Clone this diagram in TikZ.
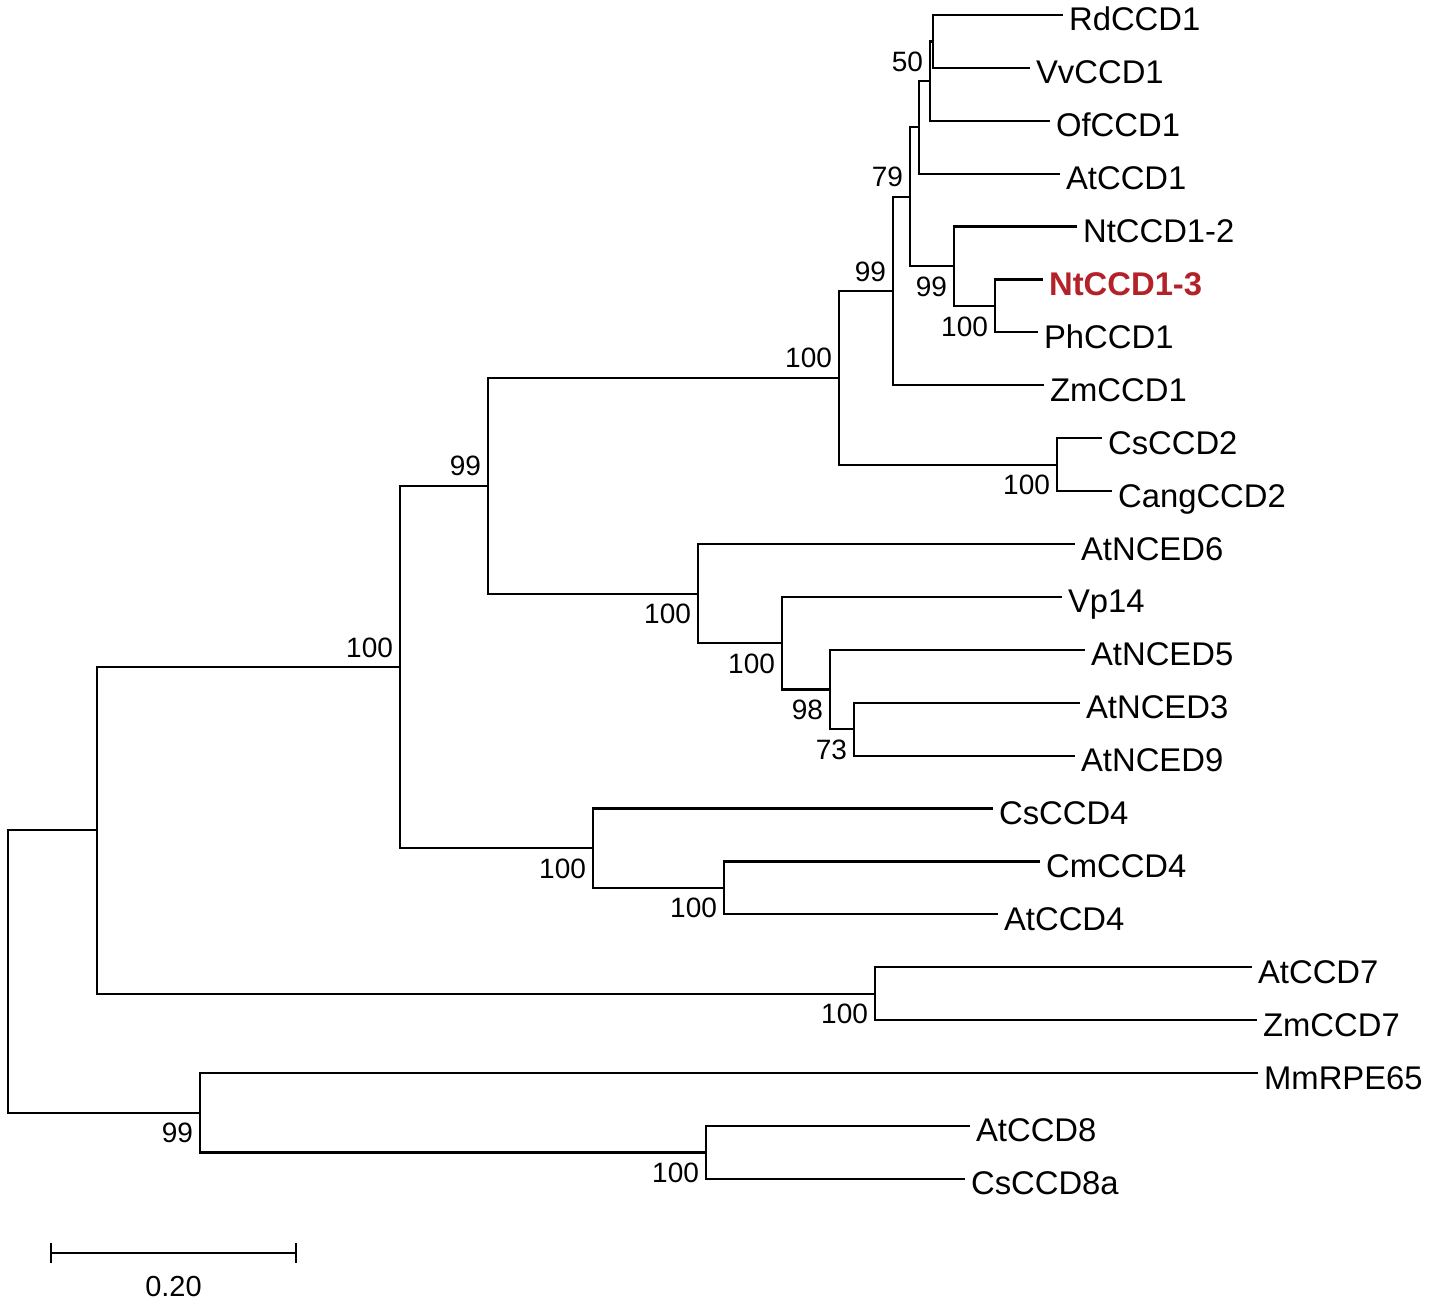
\documentclass[tikz,border=0pt]{standalone}
\usepackage{fontspec}
\setmainfont{Liberation Sans}
\definecolor{ntred}{RGB}{178,34,40}
\tikzstyle{leaf}=[anchor=west,inner xsep=2.5pt,inner ysep=0pt,text height=16pt,text depth=0pt,font=\fontsize{16.4}{18}\selectfont]
\tikzstyle{bootup}=[anchor=base east,inner sep=0pt,xshift=-3pt,yshift=5pt,font=\fontsize{14}{16}\selectfont]
\tikzstyle{bootdown}=[anchor=base east,inner sep=0pt,xshift=-3pt,yshift=-15pt,font=\fontsize{14}{16}\selectfont]

\begin{document}
\begin{tikzpicture}[x=0.5pt,y=-0.5pt,line width=1.1pt]
    \useasboundingbox (0,0) rectangle (1430,1305);
    % leaves
    \node[leaf] (RdCCD1)   at (1063,15)     {RdCCD1};
    \node[leaf] (VvCCD1)   at (1030,67.9)   {VvCCD1};
    \node[leaf] (OfCCD1)   at (1050,120.8)  {OfCCD1};
    \node[leaf] (AtCCD1)   at (1060,173.7)  {AtCCD1};
    \node[leaf] (NtCCD12)  at (1077,226.6)  {NtCCD1-2};
    \node[leaf,text=ntred,font=\fontsize{16.4}{18}\selectfont\bfseries] (NtCCD13) at (1043,279.5) {NtCCD1-3};
    \node[leaf] (PhCCD1)   at (1038,332.4)  {PhCCD1};
    \node[leaf] (ZmCCD1)   at (1044,385.3)  {ZmCCD1};
    \node[leaf] (CsCCD2)   at (1102,438.2)  {CsCCD2};
    \node[leaf] (CangCCD2) at (1112,491.1)  {CangCCD2};
    \node[leaf] (AtNCED6)  at (1075,544)    {AtNCED6};
    \node[leaf] (Vp14)     at (1062,596.9)  {Vp14};
    \node[leaf] (AtNCED5)  at (1085,649.8)  {AtNCED5};
    \node[leaf] (AtNCED3)  at (1080,702.7)  {AtNCED3};
    \node[leaf] (AtNCED9)  at (1075,755.6)  {AtNCED9};
    \node[leaf] (CsCCD4)   at (993,808.5)   {CsCCD4};
    \node[leaf] (CmCCD4)   at (1040,861.4)  {CmCCD4};
    \node[leaf] (AtCCD4)   at (998,914.3)   {AtCCD4};
    \node[leaf] (AtCCD7)   at (1252,967.2)  {AtCCD7};
    \node[leaf] (ZmCCD7)   at (1257,1020.1) {ZmCCD7};
    \node[leaf] (MmRPE65)  at (1258,1073)   {MmRPE65};
    \node[leaf] (AtCCD8)   at (970,1125.9)  {AtCCD8};
    \node[leaf] (CsCCD8a)  at (965,1178.8)  {CsCCD8a};
    % inner nodes
    \coordinate (n1)   at (933,41.5);
    \coordinate (n2)   at (930,81.1);
    \coordinate (n3)   at (919,127.4);
    \coordinate (n4)   at (995,306);
    \coordinate (n5)   at (954,266.3);
    \coordinate (n6)   at (910,196.9);
    \coordinate (n7)   at (893,291.1);
    \coordinate (n8)   at (1057,464.7);
    \coordinate (n9)   at (839,377.9);
    \coordinate (n10)  at (854,729.2);
    \coordinate (n11)  at (830,689.5);
    \coordinate (n12)  at (782,643.2);
    \coordinate (n13)  at (698,593.6);
    \coordinate (n14)  at (488,485.8);
    \coordinate (n15)  at (724,887.9);
    \coordinate (n16)  at (593,848.2);
    \coordinate (n17)  at (400,667);
    \coordinate (n18)  at (875,993.7);
    \coordinate (n19)  at (97,830.3);
    \coordinate (n20)  at (706,1152.4);
    \coordinate (n21)  at (200,1112.7);
    \coordinate (root) at (8,971.5);
    % branches
    \draw (n1) |- (RdCCD1.west);
    \draw (n1) |- (VvCCD1.west);
    \draw (n2) |- (n1);
    \draw (n2) |- (OfCCD1.west);
    \draw (n3) |- (n2);
    \draw (n3) |- (AtCCD1.west);
    \draw (n4) |- (NtCCD13.west);
    \draw (n4) |- (PhCCD1.west);
    \draw (n5) |- (NtCCD12.west);
    \draw (n5) |- (n4);
    \draw (n6) |- (n3);
    \draw (n6) |- (n5);
    \draw (n7) |- (n6);
    \draw (n7) |- (ZmCCD1.west);
    \draw (n8) |- (CsCCD2.west);
    \draw (n8) |- (CangCCD2.west);
    \draw (n9) |- (n7);
    \draw (n9) |- (n8);
    \draw (n10) |- (AtNCED3.west);
    \draw (n10) |- (AtNCED9.west);
    \draw (n11) |- (AtNCED5.west);
    \draw (n11) |- (n10);
    \draw (n12) |- (Vp14.west);
    \draw (n12) |- (n11);
    \draw (n13) |- (AtNCED6.west);
    \draw (n13) |- (n12);
    \draw (n14) |- (n9);
    \draw (n14) |- (n13);
    \draw (n15) |- (CmCCD4.west);
    \draw (n15) |- (AtCCD4.west);
    \draw (n16) |- (CsCCD4.west);
    \draw (n16) |- (n15);
    \draw (n17) |- (n14);
    \draw (n17) |- (n16);
    \draw (n18) |- (AtCCD7.west);
    \draw (n18) |- (ZmCCD7.west);
    \draw (n19) |- (n17);
    \draw (n19) |- (n18);
    \draw (n20) |- (AtCCD8.west);
    \draw (n20) |- (CsCCD8a.west);
    \draw (n21) |- (MmRPE65.west);
    \draw (n21) |- (n20);
    \draw (root) |- (n19);
    \draw (root) |- (n21);
    % bootstrap values
    \node[bootup]   (b2)  at (n2)  {50};
    \node[bootup]   (b6)  at (n6)  {79};
    \node[bootup]   (b7)  at (n7)  {99};
    \node[bootup]   (b9)  at (n9)  {100};
    \node[bootup]   (b14) at (n14) {99};
    \node[bootup]   (b17) at (n17) {100};
    \node[bootdown] (b4)  at (n4)  {100};
    \node[bootdown] (b5)  at (n5)  {99};
    \node[bootdown] (b8)  at (n8)  {100};
    \node[bootdown] (b10) at (n10) {73};
    \node[bootdown] (b11) at (n11) {98};
    \node[bootdown] (b12) at (n12) {100};
    \node[bootdown] (b13) at (n13) {100};
    \node[bootdown] (b15) at (n15) {100};
    \node[bootdown] (b16) at (n16) {100};
    \node[bootdown] (b18) at (n18) {100};
    \node[bootdown] (b20) at (n20) {100};
    \node[bootdown] (b21) at (n21) {99};
    % scale bar
    \coordinate (sbl) at (51,1253);
    \coordinate (sbr) at (296,1253);
    \draw (sbl) -- (sbr);
    \draw ([yshift=5pt]sbl) -- ([yshift=-5pt]sbl);
    \draw ([yshift=5pt]sbr) -- ([yshift=-5pt]sbr);
    \node[font=\fontsize{14.5}{16}\selectfont] (sbtext) at (173.5,1287) {0.20};
\end{tikzpicture}
\end{document}
